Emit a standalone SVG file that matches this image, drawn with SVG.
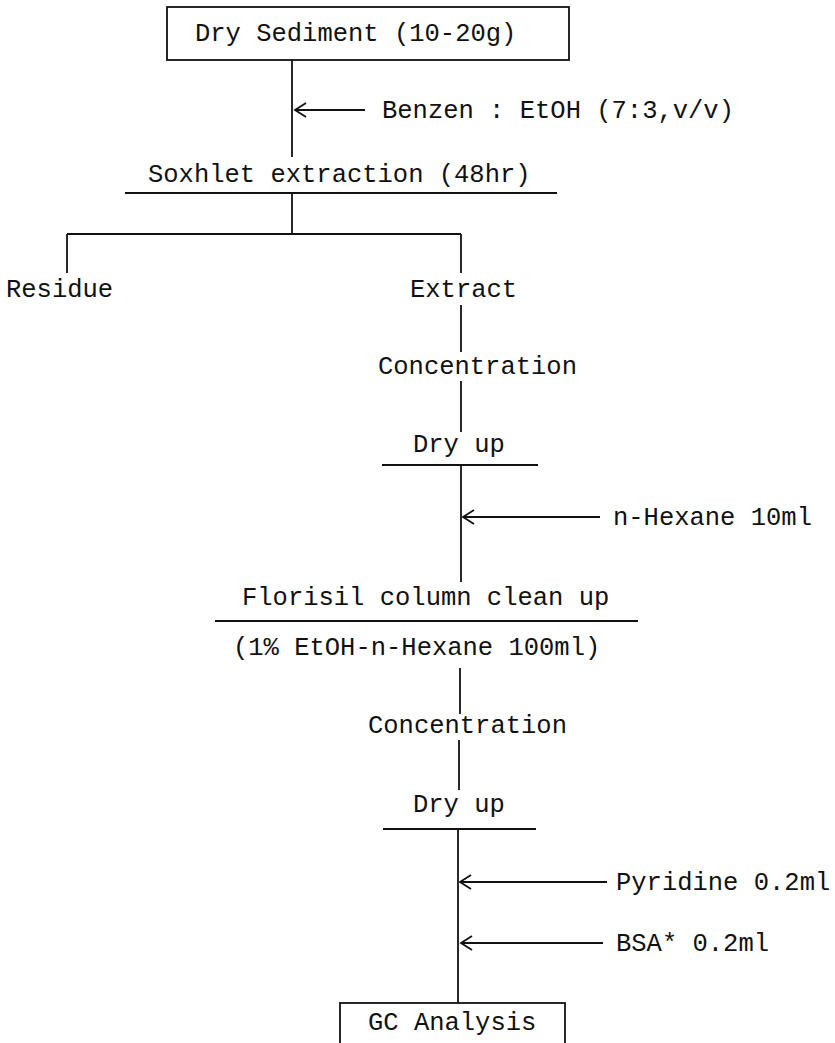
<svg xmlns="http://www.w3.org/2000/svg" width="835" height="1043" viewBox="0 0 835 1043">
<style>
text{font-family:"Liberation Mono","Courier New",monospace;font-size:25.5px;fill:#111}
.ln{stroke:#111;stroke-width:1.8;fill:none}
</style>
<defs>
<marker id="ah" markerUnits="userSpaceOnUse" markerWidth="20" markerHeight="20" viewBox="-12 -10 14 20" refX="0" refY="0" orient="auto" overflow="visible">
<path d="M-11,-7 L0,0 L-11,7" fill="none" stroke="#111" stroke-width="1.8"/>
</marker>
</defs>
<rect width="835" height="1043" fill="#fff"/>
<g id="connectors" class="ln">
<line x1="292" y1="60" x2="292" y2="157"/>
<line x1="365" y1="110" x2="295" y2="110" marker-end="url(#ah)"/>
<line x1="292" y1="193" x2="292" y2="234"/>
<line x1="67" y1="234" x2="461" y2="234"/>
<line x1="67" y1="234" x2="67" y2="273"/>
<line x1="461" y1="234" x2="461" y2="273"/>
<line x1="461" y1="305" x2="461" y2="352"/>
<line x1="461" y1="381" x2="461" y2="432"/>
<line x1="461" y1="465" x2="461" y2="582"/>
<line x1="600" y1="517" x2="463" y2="517" marker-end="url(#ah)"/>
<line x1="460" y1="668" x2="460" y2="714"/>
<line x1="459" y1="740" x2="459" y2="790"/>
<line x1="458" y1="829" x2="458" y2="1003"/>
<line x1="607" y1="882" x2="460" y2="882" marker-end="url(#ah)"/>
<line x1="603" y1="943" x2="461" y2="943" marker-end="url(#ah)"/>
</g>
<g id="n-dry-sediment">
<rect class="ln" x="167" y="7" width="402" height="53"/>
<text x="195" y="41">Dry Sediment (10-20g)</text>
</g>
<g id="n-benzen"><text x="382" y="118">Benzen : EtOH (7:3,v/v)</text></g>
<g id="n-soxhlet">
<text x="148" y="182">Soxhlet extraction (48hr)</text>
<line class="ln" x1="125" y1="193" x2="557" y2="193"/>
</g>
<g id="n-residue"><text x="6" y="297">Residue</text></g>
<g id="n-extract"><text x="410" y="297">Extract</text></g>
<g id="n-conc1"><text x="378" y="374">Concentration</text></g>
<g id="n-dryup1">
<text x="413" y="452">Dry up</text>
<line class="ln" x1="382" y1="465" x2="538" y2="465"/>
</g>
<g id="n-hexane"><text x="613" y="525">n-Hexane 10ml</text></g>
<g id="n-florisil">
<text x="242" y="605">Florisil column clean up</text>
<line class="ln" x1="215" y1="621" x2="638" y2="621"/>
<text x="233" y="655">(1% EtOH-n-Hexane 100ml)</text>
</g>
<g id="n-conc2"><text x="368" y="733">Concentration</text></g>
<g id="n-dryup2">
<text x="413" y="812">Dry up</text>
<line class="ln" x1="383" y1="829" x2="536" y2="829"/>
</g>
<g id="n-pyridine"><text x="616" y="890">Pyridine 0.2ml</text></g>
<g id="n-bsa"><text x="616" y="951">BSA* 0.2ml</text></g>
<g id="n-gc">
<rect class="ln" x="340" y="1003" width="225" height="60"/>
<text x="368" y="1030">GC Analysis</text>
</g>
</svg>
